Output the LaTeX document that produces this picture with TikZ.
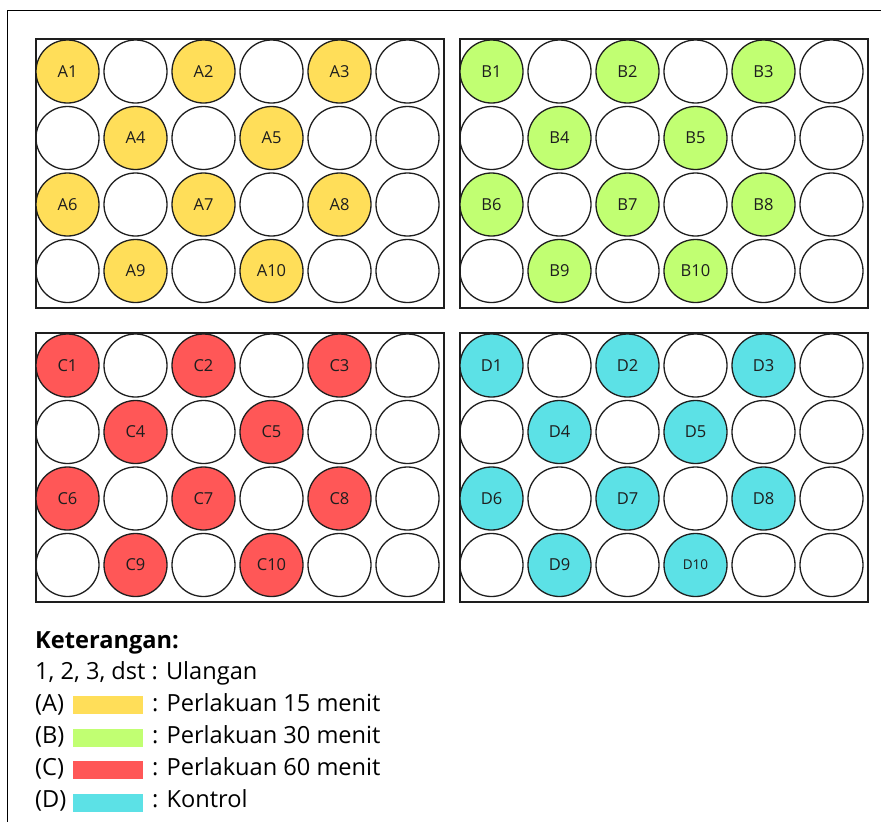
\documentclass[tikz,border=0pt]{standalone}
\usepackage{fontspec}
\setmainfont{Open Sans}
\definecolor{wellyellow}{HTML}{FFDE59}
\definecolor{wellgreen}{HTML}{C1FF72}
\definecolor{wellred}{HTML}{FF5757}
\definecolor{wellcyan}{HTML}{5CE1E6}
\definecolor{inkgray}{RGB}{30, 30, 30}
\tikzset{
	plate/.style={rectangle, draw=inkgray, line width=1.6pt, minimum width=408pt, minimum height=269pt, inner sep=0pt},
	well/.style={circle, draw=inkgray, line width=1.3pt, minimum size=63pt, inner sep=0pt, text=inkgray, font=\fontsize{16.5}{16.5}\selectfont},
	swatch/.style={rectangle, minimum width=70pt, minimum height=18pt, inner sep=0pt},
	legend/.style={anchor=base west, inner sep=0pt, font=\fontsize{23.6}{23.6}\selectfont},
}
\def\smallid{D10}

\begin{document}
\begin{tikzpicture}[x=1pt, y=-1pt]
		\useasboundingbox (0,0) rectangle (881,822);
		\draw[line width=0.9pt] (7,830) -- (7,10) -- (890,10);
		% plates with their wells
		\foreach \p/\px/\py/\col in {A/35/38/wellyellow, B/459/38/wellgreen, C/35/332/wellred, D/459/332/wellcyan}{
			\node[plate, anchor=north west] (plate\p) at (\px,\py) {};
			\foreach \c/\r in {1/0,3/0,5/0,0/1,2/1,4/1,5/1,1/2,3/2,5/2,0/3,2/3,4/3,5/3}{
				\node[well] (\p-\r-\c) at (\px+32.5+68*\c, \py+33.5+66.5*\r) {};
			}
			\foreach \c/\r/\n in {0/0/1, 2/0/2, 4/0/3, 1/1/4, 3/1/5, 0/2/6, 2/2/7, 4/2/8, 1/3/9, 3/3/10}{
				\node[well, fill=\col] (\p\n) at (\px+32.5+68*\c, \py+33.5+66.5*\r) {\edef\wid{\p\n}\ifx\wid\smallid\fontsize{13.5}{13.5}\selectfont\fi\wid};
			}
		}
		% legend
		\node[legend, font=\fontsize{23.6}{23.6}\selectfont\bfseries] (ket) at (35,648) {Keterangan:};
		\node[legend] (ulangan) at (35,679.5) {1, 2, 3, dst : Ulangan};
		\foreach \k/\col/\txt [count=\i from 0] in {A/wellyellow/Perlakuan 15 menit, B/wellgreen/Perlakuan 30 menit, C/wellred/Perlakuan 60 menit, D/wellcyan/Kontrol}{
			\node[legend] (key\k) at (35,711+32*\i) {(\k)};
			\node[swatch, fill=\col, anchor=west] (swatch\k) at (73,705+32.5*\i) {};
			\node[legend] (text\k) at (152,711+32*\i) {: \txt};
		}
	\end{tikzpicture}
\end{document}
